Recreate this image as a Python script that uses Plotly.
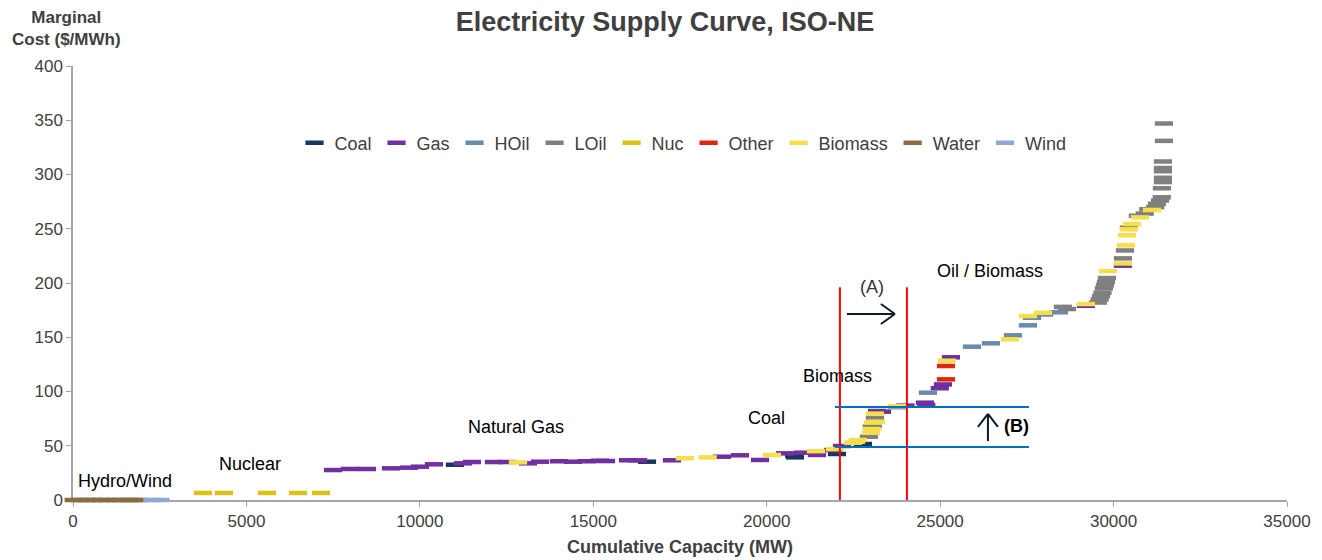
import plotly.graph_objects as go

# ---- data: cumulative capacity (MW) and marginal cost ($/MWh) per fuel ----
coal_x = [11012, 16548, 20790, 20814, 22025, 22774]
coal_y = [32.5, 35.3, 41.0, 39.3, 42.4, 51.6]

gas_x = [7495, 7985, 8475, 9167, 9686, 10003, 10407, 11243, 11503, 12137, 12512, 13117, 13463,
         14011, 14415, 14818, 15193, 15366, 16000, 16290, 17268, 18709, 19228, 19805, 20526,
         21045, 21448, 21910, 22169, 23180, 23322, 24000, 24562, 24600, 24990, 25080, 25311,
         29203, 30270]
gas_y = [27.6, 28.6, 28.6, 29.2, 29.8, 30.7, 32.9, 33.8, 35.0, 35.0, 35.0, 33.8, 35.3,
         35.7, 35.3, 35.7, 36.2, 35.9, 36.6, 36.6, 36.6, 39.9, 41.2, 36.9, 43.0,
         43.6, 41.5, 46.0, 49.8, 82.0, 81.4, 87.0, 89.7, 87.5, 103.0, 106.5, 131.5,
         179.0, 216.0]

hoil_x = [23754, 24649, 25917, 26464, 27099, 27531, 27650, 28000, 28425]
hoil_y = [85.5, 98.9, 141.3, 144.4, 151.8, 161.0, 168.0, 171.0, 173.0]

loil_x = [22945, 23030, 23060, 23120, 28540, 28656, 29550, 29600, 29640, 29680, 29720, 29750,
          29780, 29810, 30270, 30328, 30443, 30700, 30900, 31000, 31200, 31250, 31340, 31390,
          31394, 31423, 31423, 31423, 31423, 31423, 31452]
loil_y = [58.3, 67.6, 68.2, 75.6, 178.0, 176.0, 182.0, 185.0, 188.0, 191.0, 195.0, 198.0,
          201.0, 204.6, 222.7, 230.0, 251.0, 262.0, 264.0, 268.0, 270.0, 273.0, 276.0, 279.0,
          287.3, 293.0, 297.0, 303.0, 306.0, 312.0, 331.0]
loil_x.append(31452)
loil_y.append(347.0)

nuc_x = [3748, 4353, 5593, 6487, 7150]
nuc_y = [6.5, 6.5, 6.5, 6.5, 6.5]

other_x = [25168, 25168]
other_y = [111.2, 123.5]

bio_x = [12829, 17640, 18300, 20150, 21420, 21967, 22486, 22570, 22630, 23005, 23030, 23060,
         23150, 23120, 23754, 25196, 27012, 27531, 27964, 29203, 29838, 30270, 30356, 30386,
         30443, 30530, 30760, 31106]
bio_y = [34.7, 38.5, 39.3, 41.5, 45.0, 46.9, 52.8, 53.7, 55.3, 62.0, 65.4, 71.3,
         72.2, 79.6, 86.5, 128.4, 148.1, 169.6, 172.6, 180.6, 211.0, 218.0, 234.7, 244.0,
         249.5, 254.4, 260.5, 267.3]

water_x = [20, 200, 400, 600, 800, 1000, 1200, 1400, 1600, 1750, 1930]
water_y = [0] * len(water_x)

wind_x = [2290, 2520]
wind_y = [0, 0]

series = [
    ("Coal", coal_x, coal_y, "#17375E"),
    ("Gas", gas_x, gas_y, "#7030A0"),
    ("HOil", hoil_x, hoil_y, "#6A8BAA"),
    ("LOil", loil_x, loil_y, "#808080"),
    ("Nuc", nuc_x, nuc_y, "#DCC214"),
    ("Other", other_x, other_y, "#E0260F"),
    ("Biomass", bio_x, bio_y, "#F5DF4D"),
    ("Water", water_x, water_y, "#8B6B45"),
    ("Wind", wind_x, wind_y, "#8EA9D6"),
]

FONT = "Liberation Sans, Arial, sans-serif"
TXT = "#404040"

# page body has an 8px margin: figure is sized so the plot lands where the reference has it
OFF = 8
W, H = 1322 - OFF, 560 - OFF
PL, PT, PW, PH = 73, 66, 1214, 434  # plot area in window pixels

fig = go.Figure()
for name, xs, ys, col in series:
    fig.add_trace(go.Scatter(
        x=xs, y=ys, mode="markers", name=name, cliponaxis=False,
        marker=dict(symbol="line-ew", size=13, color=col,
                    line=dict(width=4.5, color=col)),
    ))

# Reference lines (A) and (B)
a_left, a_right, a_top = 22110, 24042, 196
b_low, b_high, b_x0, b_x1 = 48.8, 85.7, 21966, 27560
shapes = []
for xv in (a_left, a_right):
    shapes.append(dict(type="line", x0=xv, x1=xv, y0=0, y1=a_top,
                       line=dict(color="#FF0000", width=2)))
for yv in (b_low, b_high):
    shapes.append(dict(type="line", x0=b_x0, x1=b_x1, y0=yv, y1=yv,
                       line=dict(color="#0070C0", width=2)))
arrow_col = "#0D1B2A"
ay = 171.4
shapes += [
    dict(type="line", x0=22313, x1=23697, y0=ay, y1=ay, line=dict(color=arrow_col, width=2)),
    dict(type="line", x0=23293, x1=23697, y0=ay + 9.2, y1=ay, line=dict(color=arrow_col, width=2)),
    dict(type="line", x0=23293, x1=23697, y0=ay - 9.2, y1=ay, line=dict(color=arrow_col, width=2)),
]
bx = 26378
shapes += [
    dict(type="line", x0=bx, x1=bx, y0=54.4, y1=79.3, line=dict(color=arrow_col, width=2)),
    dict(type="line", x0=bx - 288, x1=bx, y0=67.3, y1=79.3, line=dict(color=arrow_col, width=2)),
    dict(type="line", x0=bx + 288, x1=bx, y0=67.3, y1=79.3, line=dict(color=arrow_col, width=2)),
]
for s in shapes:
    s["xref"] = "x"
    s["yref"] = "y"
    s["layer"] = "above"

labels = [
    ("Hydro/Wind", 1500, 17.5, False),
    ("Nuclear", 5100, 33, False),
    ("Natural Gas", 12770, 67, False),
    ("Coal", 19980, 75.6, False),
    ("Biomass", 22050, 114, False),
    ("Oil / Biomass", 26435, 211, False),
    ("(A)", 23034, 196, False),
    ("(B)", 27214, 68.2, True),
]
annotations = []
for t, x, y, bold in labels:
    annotations.append(dict(
        x=x, y=y, xref="x", yref="y", text=f"<b>{t}</b>" if bold else t, showarrow=False,
        font=dict(family=FONT, size=18, color="#333333" if t == "(A)" else "#000000"),
        xanchor="center", yanchor="middle"))

annotations.append(dict(
    xref="paper", yref="paper", x=(66 - PL) / PW, y=(PT + PH - 28) / PH,
    text="<b>Marginal<br>Cost ($/MWh)</b>", showarrow=False,
    font=dict(family=FONT, size=17, color=TXT), xanchor="center", yanchor="middle", align="center"))
annotations.append(dict(
    xref="paper", yref="paper", x=(680 - PL) / PW, y=(PT + PH - 547) / PH,
    text="<b>Cumulative Capacity (MW)</b>", showarrow=False,
    font=dict(family=FONT, size=18, color=TXT), xanchor="center", yanchor="middle"))

fig.update_layout(
    width=W, height=H,
    margin=dict(l=PL - OFF, r=W - (PL - OFF) - PW, t=PT - OFF, b=H - (PT - OFF) - PH),
    paper_bgcolor="white", plot_bgcolor="white",
    font=dict(family=FONT, color=TXT),
    title=dict(text="<b>Electricity Supply Curve, ISO-NE</b>", x=(665 - OFF) / W, xanchor="center",
               y=1 - (22 - OFF) / H, yanchor="middle",
               font=dict(family=FONT, size=27, color="#404040")),
    showlegend=True,
    legend=dict(orientation="h", x=(683 - PL) / PW, xanchor="center",
                y=(PT + PH - 143) / PH, yanchor="middle",
                font=dict(family=FONT, size=18, color=TXT),
                bgcolor="rgba(0,0,0,0)", itemwidth=30, tracegroupgap=0),
    shapes=shapes,
    annotations=annotations,
)
fig.update_xaxes(range=[0, 35000], dtick=5000, tick0=0, tickformat="d", showgrid=False,
                 zeroline=False, showline=True, linecolor="#A6A6A6", linewidth=1.5,
                 ticks="outside", ticklen=5, tickcolor="#A6A6A6",
                 tickfont=dict(family=FONT, size=17, color=TXT), layer="below traces")
fig.update_yaxes(range=[0, 400], dtick=50, tick0=0, showgrid=False, zeroline=False,
                 showline=True, linecolor="#A6A6A6", linewidth=1.5, ticks="outside",
                 ticklen=5, tickcolor="#A6A6A6", tickfont=dict(family=FONT, size=17, color=TXT),
                 layer="below traces")

fig.write_html("out.html")
